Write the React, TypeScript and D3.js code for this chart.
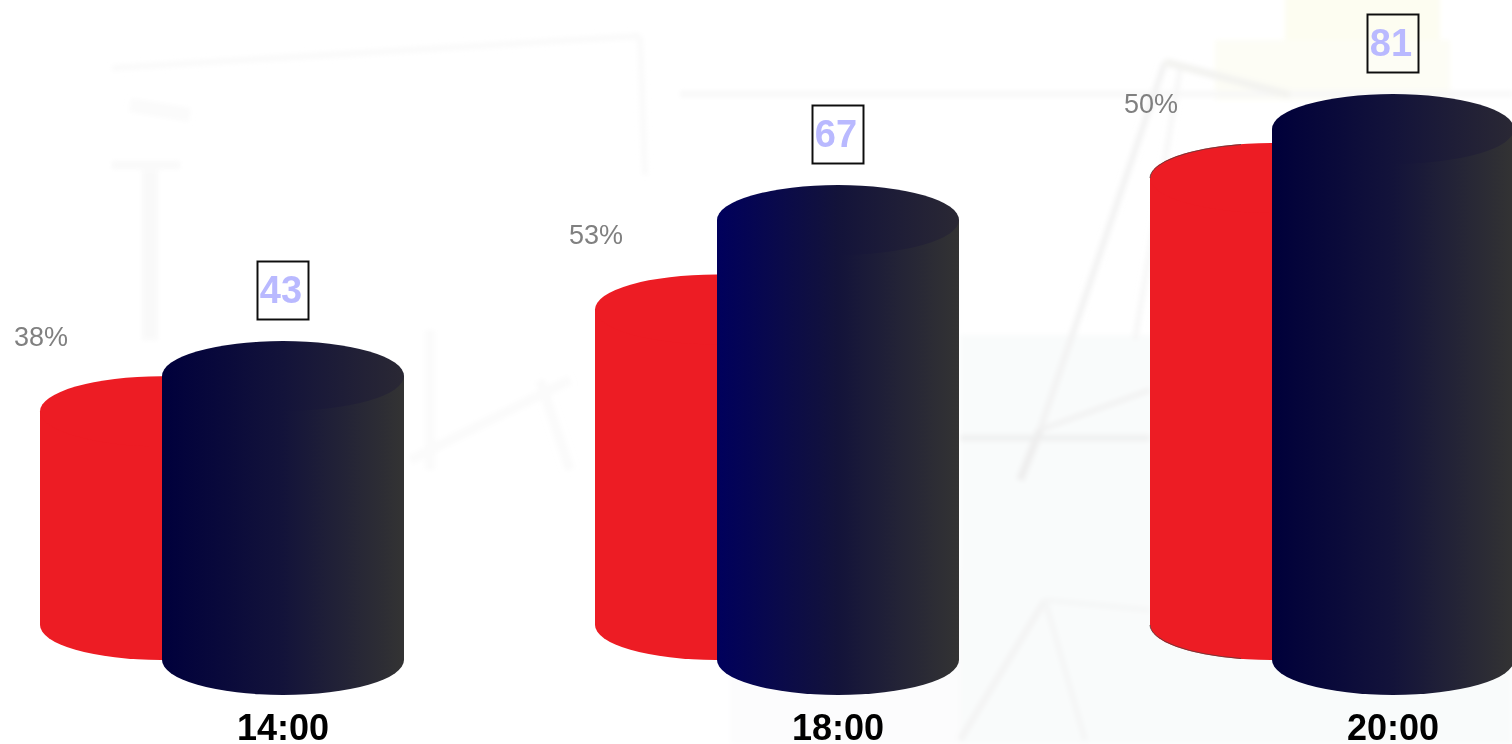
import React, { useEffect, useRef } from 'react'
import * as d3 from 'd3'

const categories = ['14:00', '18:00', '20:00']
const blueValues = [43, 67, 81]
const redValues = [32.5, 48, 68]
const percentLabels = ['38%', '53%', '50%']

// gradient start of each blue cylinder (18:00 is a brighter navy in the picture)
const blueStart = ['#00003c', '#00005c', '#00003a']

// faint watermark behind the chart, only decoration
const ghostLines: [number, number, number, number, number, string][] = [
  [112, 68, 640, 36, 6, '#fafafa'],
  [640, 36, 645, 175, 6, '#fafafa'],
  [680, 94, 1512, 94, 6, '#f8f8f8'],
  [150, 170, 150, 340, 16, '#f9f9f9'],
  [112, 165, 180, 165, 8, '#f9f9f9'],
  [130, 105, 190, 115, 14, '#fbfbfb'],
  [1040, 430, 1165, 62, 6, '#f2f2f2'],
  [1165, 62, 1290, 95, 8, '#f3f3f0'],
  [1180, 70, 1135, 340, 5, '#f6f6f6'],
  [960, 438, 1150, 438, 6, '#eff0f0'],
  [1040, 430, 1150, 390, 5, '#f1f1f1'],
  [1020, 480, 1040, 430, 8, '#eeeeee'],
  [960, 740, 1045, 600, 6, '#f3f3f3'],
  [1045, 600, 1085, 740, 5, '#f4f5f5'],
  [1045, 600, 1150, 610, 5, '#f5f6f6'],
  [410, 460, 570, 380, 10, '#fbfbfb'],
  [430, 330, 430, 470, 10, '#fbfbfb'],
  [540, 380, 570, 470, 10, '#fbfbfb'],
]
const ghostRects: [number, number, number, number, string][] = [
  [960, 335, 552, 409, '#f9fbfb'],
  [730, 570, 230, 174, '#fcfcfd'],
  [1285, -10, 155, 110, '#fdfdf1'],
  [1215, 40, 235, 60, '#fdfdf5'],
]

const WIDTH = 1512
const HEIGHT = 744
const RX = 121
const RY = 35
const BLUE_BASE = 660
const RED_BASE = 625

export default function App() {
  const ref = useRef<SVGSVGElement>(null)

  useEffect(() => {
    const svg = d3.select(ref.current)
    svg.selectAll('*').remove()

    const x = d3.scalePoint<string>().domain(categories).range([283, 1393])
    const yBlue = d3.scaleLinear().domain([43, 81]).range([376, 129])
    const yRed = d3.scaleLinear().domain([0, 68]).range([RED_BASE, 178])

    const defs = svg.append('defs')
    const soft = defs.append('filter').attr('id', 'soft')
    soft.append('feGaussianBlur').attr('stdDeviation', 0.45)
    const haze = defs.append('filter').attr('id', 'haze')
      .attr('x', '-5%').attr('y', '-5%').attr('width', '110%').attr('height', '110%')
    haze.append('feGaussianBlur').attr('stdDeviation', 2.5)

    categories.forEach((c, i) => {
      const body = defs.append('linearGradient').attr('id', 'body' + i)
      body.append('stop').attr('offset', '0%').attr('stop-color', blueStart[i])
      body.append('stop').attr('offset', '50%').attr('stop-color', '#13133a')
      body.append('stop').attr('offset', '100%').attr('stop-color', '#333333')
      const cap = defs.append('linearGradient').attr('id', 'cap' + i)
      cap.append('stop').attr('offset', '0%').attr('stop-color', blueStart[i])
      cap.append('stop').attr('offset', '50%').attr('stop-color', '#13133a')
      cap.append('stop').attr('offset', '100%').attr('stop-color', '#2a2834')
    })

    // background
    svg.append('rect').attr('width', WIDTH).attr('height', HEIGHT).attr('fill', '#ffffff')
    const ghost = svg.append('g').attr('filter', 'url(#haze)')
    ghostRects.forEach(([gx, gy, w, h, fill]) => {
      ghost.append('rect').attr('x', gx).attr('y', gy).attr('width', w).attr('height', h).attr('fill', fill)
    })
    ghostLines.forEach(([x1, y1, x2, y2, w, stroke]) => {
      ghost.append('line')
        .attr('x1', x1).attr('y1', y1).attr('x2', x2).attr('y2', y2)
        .attr('stroke', stroke).attr('stroke-width', w)
    })

    const cylinder = (cx: number, top: number, base: number, bodyFill: string, capFill: string) => {
      const g = svg.append('g')
      g.append('ellipse').attr('cx', cx).attr('cy', base).attr('rx', RX).attr('ry', RY).attr('fill', bodyFill)
      g.append('rect').attr('x', cx - RX).attr('y', top).attr('width', RX * 2).attr('height', base - top).attr('fill', bodyFill)
      g.append('ellipse').attr('cx', cx).attr('cy', top).attr('rx', RX).attr('ry', RY).attr('fill', capFill)
    }

    categories.forEach((c, i) => {
      const cx = x(c) as number
      const redCx = cx - RX - 1
      const redTop = yRed(redValues[i])
      const blueTop = yBlue(blueValues[i])

      cylinder(redCx, redTop, RED_BASE, '#ed1c24', '#ed1c24')

      // the last red cylinder keeps a thin dark edge on its left curves
      if (i === categories.length - 1) {
        svg.append('path')
          .attr('d', `M${redCx - RX},${redTop} A${RX},${RY} 0 0 1 ${redCx - 30},${redTop - RY + 1.5}`)
          .attr('fill', 'none').attr('stroke', '#5a3a3a').attr('stroke-width', 0.8)
        svg.append('path')
          .attr('d', `M${redCx - RX},${RED_BASE} A${RX},${RY} 0 0 0 ${redCx - 30},${RED_BASE + RY - 1.5}`)
          .attr('fill', 'none').attr('stroke', '#5a3a3a').attr('stroke-width', 0.8)
      }

      cylinder(cx, blueTop, BLUE_BASE, `url(#body${i})`, `url(#cap${i})`)

      const labels = svg.append('g').attr('filter', 'url(#soft)').attr('font-family', '"Liberation Sans", Arial, sans-serif')

      labels.append('text')
        .attr('x', redCx - RX - 26)
        .attr('y', redTop - 65)
        .attr('font-size', 27)
        .attr('fill', '#808080')
        .text(percentLabels[i])

      labels.append('rect')
        .attr('x', cx - 25.5)
        .attr('y', blueTop - 114.5)
        .attr('width', 51)
        .attr('height', 58)
        .attr('fill', 'none')
        .attr('stroke', '#111111')
        .attr('stroke-width', 2)

      labels.append('text')
        .attr('x', cx - 2)
        .attr('y', blueTop - 73)
        .attr('text-anchor', 'middle')
        .attr('font-size', 38)
        .attr('font-weight', 'bold')
        .attr('fill', '#b9b9ff')
        .text(blueValues[i])

      labels.append('text')
        .attr('x', cx)
        .attr('y', 740)
        .attr('text-anchor', 'middle')
        .attr('font-size', 36)
        .attr('font-weight', 'bold')
        .attr('fill', '#000000')
        .text(c)
    })
  }, [])

  return (
    <svg
      ref={ref}
      width={WIDTH}
      height={HEIGHT}
      style={{ position: 'absolute', left: 0, top: 0, display: 'block' }}
    />
  )
}
